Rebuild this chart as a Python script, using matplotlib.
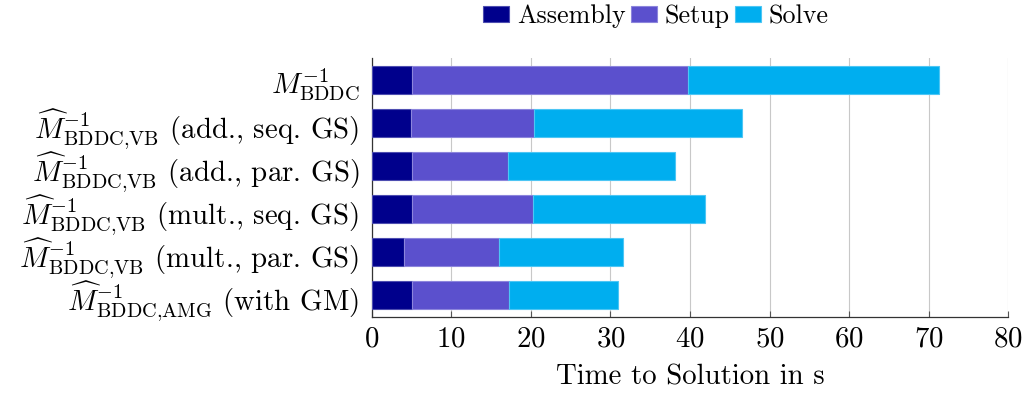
import numpy as np
import matplotlib
matplotlib.use("Agg")
from matplotlib import pyplot as plt

plt.rcParams['font.family'] = 'serif'
plt.rcParams['font.serif'] = ['cmr10']
plt.rcParams['mathtext.fontset'] = 'cm'
plt.rcParams['axes.formatter.use_mathtext'] = True

# preconditioner variants, top to bottom
labels = [
    r'$M_{\mathrm{BDDC}}^{-1}$',
    r'$\widehat{M}_{\mathrm{BDDC{,}VB}}^{-1}$ (add., seq. GS)',
    r'$\widehat{M}_{\mathrm{BDDC{,}VB}}^{-1}$ (add., par. GS)',
    r'$\widehat{M}_{\mathrm{BDDC{,}VB}}^{-1}$ (mult., seq. GS)',
    r'$\widehat{M}_{\mathrm{BDDC{,}VB}}^{-1}$ (mult., par. GS)',
    r'$\widehat{M}_{\mathrm{BDDC{,}AMG}}^{-1}$ (with GM)',
]

# time per phase in seconds
assembly = [5.0, 4.9, 5.0, 5.1, 4.1, 5.1]
setup = [34.8, 15.5, 12.1, 15.2, 11.9, 12.1]
solve = [31.5, 26.1, 21.0, 21.6, 15.6, 13.7]

phases = ['Assembly', 'Setup', 'Solve']
colors = ['#00008c', '#5b50cd', '#00aeef']
edges = ['#4d4db0', '#8c85dc', '#4dc6f4']

fs = 20.8

fig = plt.figure(figsize=(10.25, 3.96), dpi=100)
ax = fig.add_axes([0.3627, 0.2002, 0.6210, 0.6526])

y = np.arange(len(labels))
left = np.zeros(len(labels))
for name, vals, c, ec in zip(phases, [assembly, setup, solve], colors, edges):
    ax.barh(y, vals, left=left, height=0.65, color=c, edgecolor=ec,
            linewidth=0.8, label=name, zorder=3)
    left += np.array(vals)

ax.set_ylim(len(labels) - 0.5, -0.5)
ax.set_xlim(0, 80)
ax.set_xticks(np.arange(0, 81, 10))
ax.set_yticks(y)
ax.set_yticklabels(labels, fontsize=fs)
ax.tick_params(axis='y', length=0, pad=9)
ax.tick_params(axis='x', direction='in', length=4, width=0.8, color='#555555',
               labelsize=fs, pad=7)
ax.grid(axis='x', color='#c8c8c8', linewidth=0.8, zorder=0)
ax.set_axisbelow(True)
for s in ['top', 'right']:
    ax.spines[s].set_visible(False)
for s in ['left', 'bottom']:
    ax.spines[s].set_color('#333333')
    ax.spines[s].set_linewidth(0.9)
ax.set_xlabel('Time to Solution in s', fontsize=fs, labelpad=8)

fig.legend(loc='center', bbox_to_anchor=(0.640, 0.958), ncol=3, frameon=False,
           fontsize=18.7, handlelength=1.0, handleheight=0.55, handletextpad=0.3,
           columnspacing=0.2, borderpad=0)

fig.savefig('out.png', dpi=100)
